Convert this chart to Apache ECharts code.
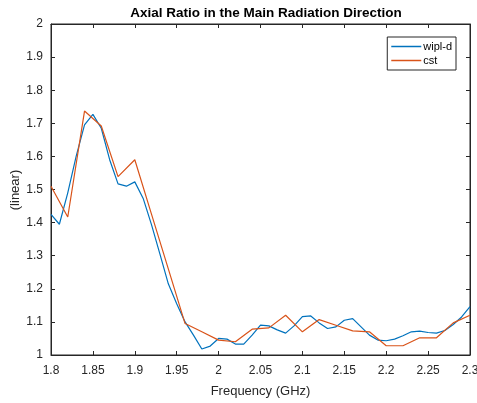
<!DOCTYPE html>
<html>
<head>
<meta charset="utf-8">
<script src="https://cdn.jsdelivr.net/npm/echarts@6/dist/echarts.min.js"></script>
<style>
  html, body { margin: 0; padding: 0; background: #fff; }
  #chart { width: 477px; height: 403px; }
</style>
</head>
<body>
<div id="chart"></div>
<script>
// wipl-d 频点 (0.01 GHz)
var freqWipl = [1.80, 1.81, 1.82, 1.83, 1.84, 1.85, 1.86, 1.87, 1.88, 1.89,
  1.90, 1.91, 1.92, 1.93, 1.94, 1.95, 1.96, 1.97, 1.98, 1.99,
  2.00, 2.01, 2.02, 2.03, 2.04, 2.05, 2.06, 2.07, 2.08, 2.09,
  2.10, 2.11, 2.12, 2.13, 2.14, 2.15, 2.16, 2.17, 2.18, 2.19,
  2.20, 2.21, 2.22, 2.23, 2.24, 2.25, 2.26, 2.27, 2.28, 2.29, 2.30];
var arWipl = [1.425, 1.395, 1.49, 1.60, 1.695, 1.727, 1.685, 1.59, 1.517, 1.51,
  1.523, 1.473, 1.393, 1.305, 1.215, 1.155, 1.10, 1.06, 1.018, 1.027,
  1.05, 1.048, 1.033, 1.033, 1.06, 1.09, 1.088, 1.076, 1.066, 1.088,
  1.116, 1.118, 1.097, 1.08, 1.085, 1.105, 1.11, 1.085, 1.06, 1.045,
  1.043, 1.048, 1.058, 1.07, 1.072, 1.068, 1.066, 1.074, 1.092, 1.115, 1.146];

// cst 频点 (0.02 GHz)
var freqCst = [1.80, 1.82, 1.84, 1.86, 1.88, 1.90, 1.92, 1.94, 1.96, 1.98,
  2.00, 2.02, 2.04, 2.06, 2.08, 2.10, 2.12, 2.14, 2.16, 2.18,
  2.20, 2.22, 2.24, 2.26, 2.28, 2.30];
var arCst = [1.51, 1.417, 1.737, 1.692, 1.539, 1.59, 1.425, 1.26, 1.095, 1.07,
  1.045, 1.04, 1.078, 1.082, 1.12, 1.07, 1.107, 1.09, 1.073, 1.07,
  1.028, 1.028, 1.052, 1.052, 1.097, 1.12];

var axisColor = '#262626';
var font = 'Liberation Sans, Arial, sans-serif';

function pairs(xs, ys) {
  return xs.map(function (x, i) { return [x, ys[i]]; });
}

var chart = echarts.init(document.getElementById('chart'), null, { renderer: 'canvas' });

var option = {
  animation: false,
  backgroundColor: '#fff',
  title: {
    text: 'Axial Ratio in the Main Radiation Direction',
    left: 261,
    textAlign: 'center',
    top: 1,
    textStyle: { fontFamily: font, fontSize: 13.5, fontWeight: 'bold', color: '#000' }
  },
  // y轴标题单独放，避免被刻度标签挤开
  graphic: [{
    type: 'text',
    x: 15,
    y: 190,
    rotation: Math.PI / 2,
    style: {
      text: '(linear)',
      fontFamily: font, fontSize: 13, fill: axisColor,
      textAlign: 'center', textVerticalAlign: 'middle'
    }
  }],
  legend: {
    right: 21,
    top: 37,
    orient: 'vertical',
    backgroundColor: '#fff',
    borderColor: axisColor,
    borderWidth: 1,
    padding: [4, 4, 4, 4],
    itemGap: 3,
    itemWidth: 30,
    itemHeight: 1.5,
    icon: 'rect',
    textStyle: { fontFamily: font, fontSize: 11, color: '#000', padding: [0, 0, 0, -3] },
    data: ['wipl-d', 'cst']
  },
  grid: {
    left: 51, right: 7, top: 24, bottom: 48,
    outerBoundsMode: 'none',
    containLabel: false,
    show: true, borderColor: axisColor, borderWidth: 1, backgroundColor: '#fff'
  },
  xAxis: [{
    type: 'value',
    min: 1.8, max: 2.3, interval: 0.05,
    name: 'Frequency (GHz)',
    nameLocation: 'middle',
    nameGap: 30,
    nameTextStyle: { fontFamily: font, fontSize: 13, color: axisColor },
    axisLine: { show: true, lineStyle: { color: axisColor } },
    axisTick: { show: true, inside: true, length: 4, lineStyle: { color: axisColor } },
    axisLabel: {
      fontFamily: font, fontSize: 12, color: axisColor, margin: 10,
      formatter: function (v) { return String(+v.toFixed(2)); }
    },
    splitLine: { show: false }
  }, {
    type: 'value', position: 'top',
    min: 1.8, max: 2.3, interval: 0.05,
    axisLine: { show: true, lineStyle: { color: axisColor } },
    axisTick: { show: true, inside: true, length: 4, lineStyle: { color: axisColor } },
    axisLabel: { show: false },
    splitLine: { show: false }
  }],
  yAxis: [{
    type: 'value',
    min: 1, max: 2, interval: 0.1,
    axisLine: { show: true, lineStyle: { color: axisColor } },
    axisTick: { show: true, inside: true, length: 4, lineStyle: { color: axisColor } },
    axisLabel: {
      fontFamily: font, fontSize: 12, color: axisColor, margin: 8,
      formatter: function (v) { return String(+v.toFixed(1)); }
    },
    splitLine: { show: false }
  }, {
    type: 'value', position: 'right',
    min: 1, max: 2, interval: 0.1,
    axisLine: { show: true, lineStyle: { color: axisColor } },
    axisTick: { show: true, inside: true, length: 4, lineStyle: { color: axisColor } },
    axisLabel: { show: false },
    splitLine: { show: false }
  }],
  series: [{
    name: 'wipl-d',
    type: 'line',
    data: pairs(freqWipl, arWipl),
    symbol: 'none',
    color: '#0072BD',
    lineStyle: { width: 1.2, color: '#0072BD' }
  }, {
    name: 'cst',
    type: 'line',
    data: pairs(freqCst, arCst),
    symbol: 'none',
    color: '#D95319',
    lineStyle: { width: 1.2, color: '#D95319' }
  }]
};

chart.setOption(option);
</script>
</body>
</html>
